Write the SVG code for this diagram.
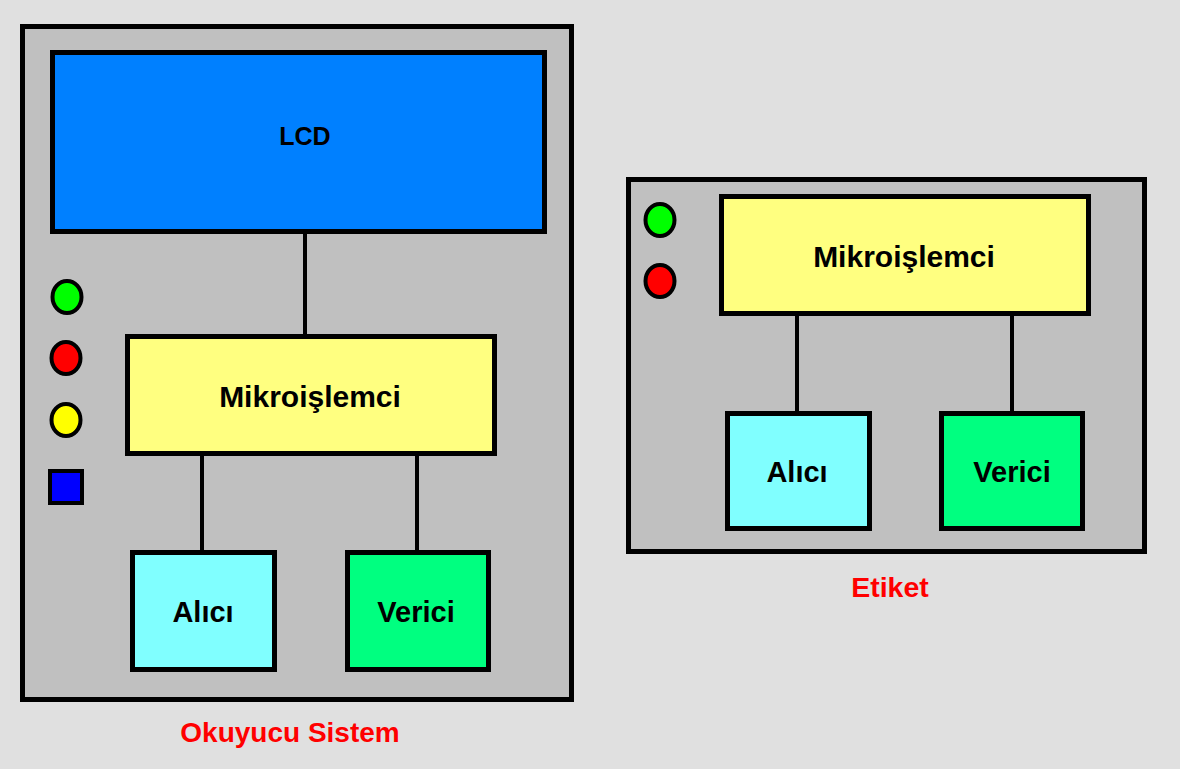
<svg xmlns="http://www.w3.org/2000/svg" width="1180" height="769" viewBox="0 0 1180 769">
<style>
.panel{fill:#c0c0c0;stroke:#000;stroke-width:5}
.box{stroke:#000;stroke-width:5}
.led{stroke:#000;stroke-width:4}
.wire{stroke:#000;stroke-width:4;fill:none}
.t{font-family:"Liberation Sans",Arial,sans-serif;font-weight:bold;font-size:29px;text-anchor:middle;dominant-baseline:central;fill:#000}
.cap{font-family:"Liberation Sans",Arial,sans-serif;font-weight:bold;text-anchor:middle;dominant-baseline:central;fill:#ff0000}
</style>
<rect x="0" y="0" width="1180" height="769" fill="#e0e0e0"/>
<g id="okuyucu-sistem">
<rect class="panel" x="22.5" y="26.5" width="549" height="673"/>
</g>
<g id="etiket">
<rect class="panel" x="628.5" y="179.5" width="516" height="372"/>
</g>
<g id="connectors">
<line class="wire" x1="305" y1="234" x2="305" y2="336"/>
<line class="wire" x1="202" y1="456" x2="202" y2="552"/>
<line class="wire" x1="417" y1="456" x2="417" y2="552"/>
<line class="wire" x1="797" y1="316" x2="797" y2="413"/>
<line class="wire" x1="1012" y1="316" x2="1012" y2="413"/>
</g>
<g id="lcd">
<rect class="box" x="52.5" y="52.5" width="492" height="179" fill="#0080ff"/>
<text class="t" x="305" y="136" style="font-size:25px">LCD</text>
</g>
<g id="mikro1">
<rect class="box" x="127.5" y="336.5" width="367" height="117" fill="#ffff80"/>
<text class="t" x="310" y="396" style="font-size:30px">Mikroişlemci</text>
</g>
<g id="alici1">
<rect class="box" x="132.5" y="552.5" width="142" height="117" fill="#80ffff"/>
<text class="t" x="203" y="612">Alıcı</text>
</g>
<g id="verici1">
<rect class="box" x="347.5" y="552.5" width="141" height="117" fill="#00ff80"/>
<text class="t" x="416" y="612">Verici</text>
</g>
<g id="led-green1"><ellipse class="led" cx="67" cy="297" rx="14.5" ry="16" fill="#00ff00"/></g>
<g id="led-red1"><ellipse class="led" cx="66" cy="358" rx="14.5" ry="16" fill="#ff0000"/></g>
<g id="led-yellow1"><ellipse class="led" cx="66" cy="420" rx="14.5" ry="16" fill="#ffff00"/></g>
<g id="button1"><rect class="led" x="50" y="471" width="32" height="32" fill="#0000ff"/></g>
<g id="mikro2">
<rect class="box" x="721.5" y="196.5" width="367" height="117" fill="#ffff80"/>
<text class="t" x="904" y="256" style="font-size:30px">Mikroişlemci</text>
</g>
<g id="alici2">
<rect class="box" x="727.5" y="413.5" width="142" height="115" fill="#80ffff"/>
<text class="t" x="797" y="472">Alıcı</text>
</g>
<g id="verici2">
<rect class="box" x="941.5" y="413.5" width="141" height="115" fill="#00ff80"/>
<text class="t" x="1012" y="472">Verici</text>
</g>
<g id="led-green2"><ellipse class="led" cx="660" cy="220" rx="14.5" ry="16" fill="#00ff00"/></g>
<g id="led-red2"><ellipse class="led" cx="660" cy="281" rx="14.5" ry="16" fill="#ff0000"/></g>
<text class="cap" x="290" y="732" font-size="28px">Okuyucu Sistem</text>
<text class="cap" x="890" y="587" font-size="28.5px">Etiket</text>
</svg>
